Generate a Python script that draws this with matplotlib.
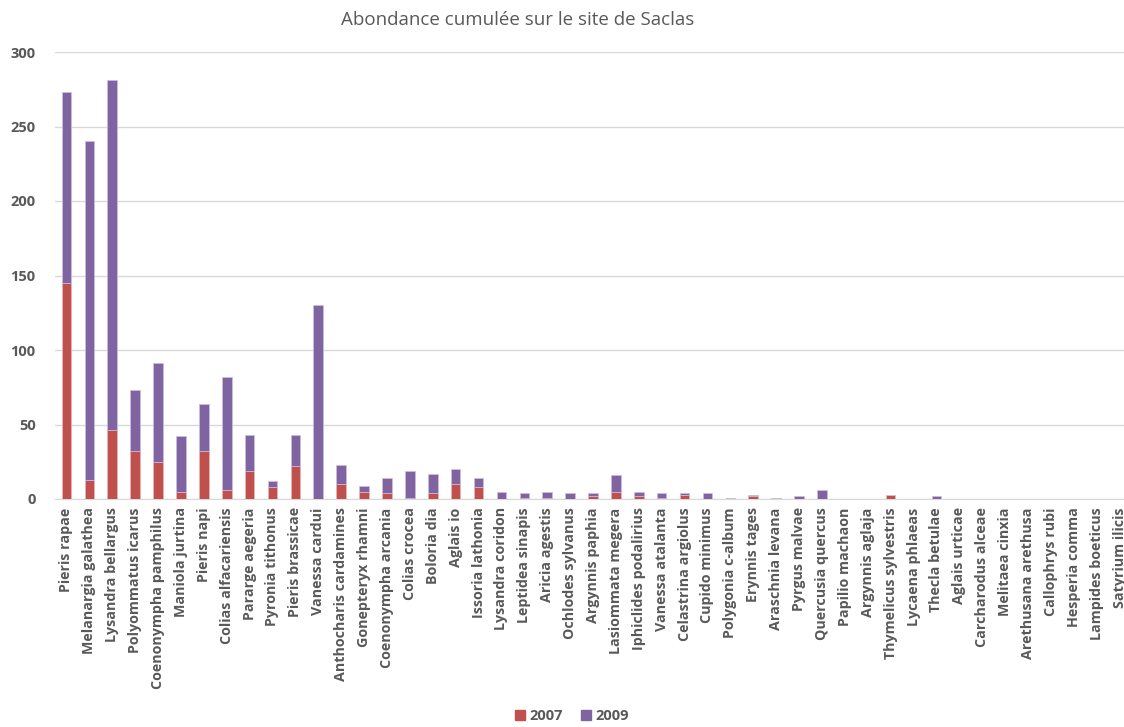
import numpy as np
import matplotlib
matplotlib.use("Agg")
import matplotlib.pyplot as plt
from matplotlib.patches import Patch

# Data
species = [
    "Pieris rapae", "Melanargia galathea", "Lysandra bellargus", "Polyommatus icarus",
    "Coenonympha pamphilus", "Maniola jurtina", "Pieris napi", "Colias alfacariensis",
    "Pararge aegeria", "Pyronia tithonus", "Pieris brassicae", "Vanessa cardui",
    "Anthocharis cardamines", "Gonepteryx rhamni", "Coenonympha arcania", "Colias crocea",
    "Boloria dia", "Aglais io", "Issoria lathonia", "Lysandra coridon", "Leptidea sinapis",
    "Aricia agestis", "Ochlodes sylvanus", "Argynnis paphia", "Lasiommata megera",
    "Iphiclides podalirius", "Vanessa atalanta", "Celastrina argiolus", "Cupido minimus",
    "Polygonia c-album", "Erynnis tages", "Araschnia levana", "Pyrgus malvae",
    "Quercusia quercus", "Papilio machaon", "Argynnis aglaja", "Thymelicus sylvestris",
    "Lycaena phlaeas", "Thecla betulae", "Aglais urticae", "Carcharodus alceae",
    "Melitaea cinxia", "Arethusana arethusa", "Callophrys rubi", "Hesperia comma",
    "Lampides boeticus", "Satyrium ilicis",
]
ab_2007 = [145, 13, 46, 32, 25, 5, 32, 6, 19, 8, 22, 0,
           10, 5, 4, 1, 4, 10, 8, 0, 1, 1, 0, 2, 5,
           2, 1, 3, 0, 0, 2, 1, 0, 0, 0, 0, 3,
           0, 0, 0, 0, 0, 0, 0, 0, 0, 0]
ab_2009 = [128, 227, 235, 41, 66, 37, 32, 76, 24, 4, 21, 130,
           13, 4, 10, 18, 13, 10, 6, 5, 3, 4, 4, 2, 11,
           3, 3, 1, 4, 1, 1, 0, 2, 6, 0, 0, 0,
           0, 2, 0, 0, 0, 0, 0, 0, 0, 0]

red = "#C0504D"
purple = "#8064A2"
grey = "#595959"

plt.rcParams["font.family"] = ["Open Sans", "DejaVu Sans"]

fig = plt.figure(figsize=(11.24, 7.27), dpi=100)
# plot area extends a little past the right edge, like the cropped original
ax = fig.add_axes([55 / 1124, 228 / 727, 1076 / 1124, 447 / 727])

x = np.arange(len(species))
ax.bar(x, ab_2007, width=0.42, color=red, edgecolor="#E8B8B6", linewidth=0.5, zorder=3)
ax.bar(x, ab_2009, width=0.42, bottom=ab_2007, color=purple, edgecolor="#CDBFE0",
       linewidth=0.5, zorder=3)

ax.set_xlim(-0.5, len(species) - 0.5)
ax.set_ylim(0, 300)
ax.set_yticks(range(0, 301, 50))
ax.yaxis.grid(True, color="#D9D9D9", linewidth=1, zorder=0)
for s in ["top", "right", "left"]:
    ax.spines[s].set_visible(False)
ax.spines["bottom"].set_color("#D9D9D9")
ax.tick_params(axis="both", length=0, colors=grey)
ax.tick_params(axis="y", pad=14)
ax.tick_params(axis="x", pad=6)

ax.set_xticks(x)
ax.set_xticklabels(species, rotation=90, fontsize=10.3, fontweight="bold", color=grey)
for lbl in ax.get_yticklabels():
    lbl.set_fontsize(10.5)
    lbl.set_fontweight("bold")

fig.text(518 / 1124, 1 - 20 / 727, "Abondance cumulée sur le site de Saclas",
         ha="center", va="center", fontsize=13.5, color=grey)

handles = [Patch(color=red, label="2007"), Patch(color=purple, label="2009")]
fig.legend(handles=handles, loc="center", bbox_to_anchor=(572 / 1124, 1 - 716 / 727),
           ncol=2, frameon=False, handlelength=0.7, handleheight=0.7,
           handletextpad=0.3, columnspacing=1.2,
           prop={"weight": "bold", "size": 10.5})
for t in fig.legends[0].get_texts():
    t.set_color(grey)

plt.savefig("out.png", dpi=100)
